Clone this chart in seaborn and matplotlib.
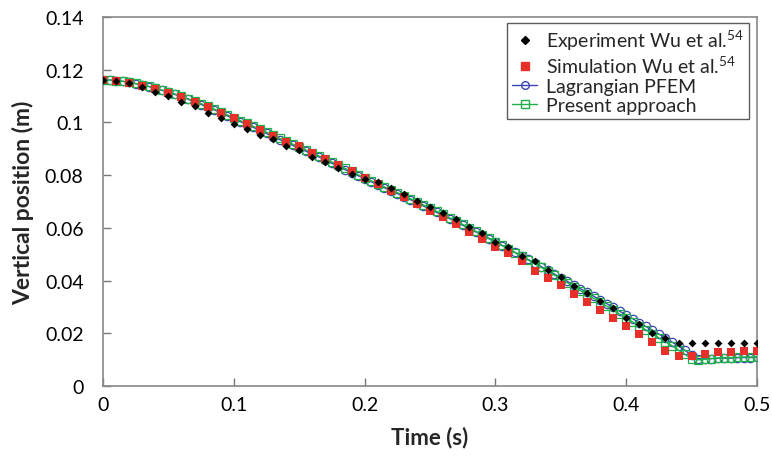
import numpy as np
import pandas as pd
import matplotlib
matplotlib.use("Agg")
import matplotlib.pyplot as plt
import seaborn as sns
from matplotlib.lines import Line2D

# ---- data ----
t_exp = [round(0.01 * i, 2) for i in range(51)]
y_exp = [0.1160, 0.1157, 0.1150, 0.1135, 0.1114, 0.1101, 0.1079, 0.1063, 0.1036, 0.1016,
         0.0993, 0.0974, 0.0952, 0.0937, 0.0912, 0.0894, 0.0868, 0.0849, 0.0826, 0.0803,
         0.0786, 0.0775, 0.0750, 0.0728, 0.0702, 0.0680, 0.0658, 0.0634, 0.0602, 0.0582,
         0.0547, 0.0526, 0.0494, 0.0473, 0.0441, 0.0414, 0.0381, 0.0354, 0.0321, 0.0295,
         0.0258, 0.0235, 0.0202, 0.0181, 0.0163, 0.0163, 0.0163, 0.0163, 0.0163, 0.0163,
         0.0163]

t_sim = [round(0.01 * i, 2) for i in range(51)]
y_sim = [0.1162, 0.1156, 0.1150, 0.1140, 0.1127, 0.1113, 0.1098, 0.1079, 0.1060, 0.1036,
         0.1016, 0.0994, 0.0971, 0.0950, 0.0927, 0.0909, 0.0884, 0.0861, 0.0838, 0.0816,
         0.0790, 0.0766, 0.0741, 0.0716, 0.0690, 0.0663, 0.0640, 0.0615, 0.0583, 0.0558,
         0.0528, 0.0503, 0.0473, 0.0436, 0.0410, 0.0384, 0.0350, 0.0317, 0.0290, 0.0258,
         0.0229, 0.0199, 0.0167, 0.0133, 0.0112, 0.0112, 0.0121, 0.0130, 0.0130, 0.0134,
         0.0134]

t_num = [round(0.005 * i, 3) for i in range(101)]
y_pfem = [0.1162, 0.1161, 0.1159, 0.1156, 0.1152, 0.1147, 0.1142, 0.1136, 0.1129, 0.1122,
          0.1114, 0.1106, 0.1097, 0.1088, 0.1078, 0.1068, 0.1058, 0.1048, 0.1037, 0.1025,
          0.1013, 0.1003, 0.0992, 0.0981, 0.0969, 0.0958, 0.0946, 0.0935, 0.0924, 0.0913,
          0.0902, 0.0891, 0.0880, 0.0869, 0.0857, 0.0845, 0.0833, 0.0821, 0.0809, 0.0798,
          0.0786, 0.0775, 0.0763, 0.0752, 0.0741, 0.0730, 0.0718, 0.0707, 0.0695, 0.0683,
          0.0671, 0.0659, 0.0647, 0.0635, 0.0622, 0.0610, 0.0597, 0.0585, 0.0572, 0.0559,
          0.0546, 0.0533, 0.0520, 0.0507, 0.0493, 0.0480, 0.0466, 0.0453, 0.0439, 0.0425,
          0.0411, 0.0397, 0.0383, 0.0369, 0.0355, 0.0341, 0.0327, 0.0313, 0.0298, 0.0284,
          0.0269, 0.0255, 0.0240, 0.0226, 0.0211, 0.0197, 0.0183, 0.0167, 0.0151, 0.0135,
          0.0117, 0.0104, 0.0103, 0.0104, 0.0105, 0.0106, 0.0106, 0.0107, 0.0108, 0.0108,
          0.0109]
y_present = [0.1162, 0.1161, 0.1159, 0.1156, 0.1153, 0.1148, 0.1143, 0.1137, 0.1130, 0.1123,
             0.1116, 0.1108, 0.1099, 0.1090, 0.1081, 0.1071, 0.1061, 0.1051, 0.1040, 0.1029,
             0.1018, 0.1007, 0.0996, 0.0985, 0.0974, 0.0963, 0.0951, 0.0940, 0.0929, 0.0918,
             0.0907, 0.0896, 0.0885, 0.0873, 0.0862, 0.0850, 0.0838, 0.0826, 0.0814, 0.0802,
             0.0790, 0.0779, 0.0767, 0.0756, 0.0745, 0.0734, 0.0722, 0.0711, 0.0699, 0.0687,
             0.0675, 0.0663, 0.0651, 0.0638, 0.0626, 0.0613, 0.0600, 0.0587, 0.0574, 0.0561,
             0.0547, 0.0534, 0.0520, 0.0506, 0.0492, 0.0478, 0.0464, 0.0450, 0.0435, 0.0421,
             0.0406, 0.0392, 0.0377, 0.0362, 0.0348, 0.0333, 0.0318, 0.0303, 0.0288, 0.0273,
             0.0258, 0.0243, 0.0228, 0.0213, 0.0198, 0.0183, 0.0168, 0.0153, 0.0136, 0.0120,
             0.0103, 0.0099, 0.0102, 0.0104, 0.0106, 0.0107, 0.0108, 0.0109, 0.0110, 0.0110,
             0.0111]

x_ticks = [0, 0.1, 0.2, 0.3, 0.4, 0.5]
x_tick_labels = ["0", "0.1", "0.2", "0.3", "0.4", "0.5"]
y_ticks = [0, 0.02, 0.04, 0.06, 0.08, 0.1, 0.12, 0.14]
y_tick_labels = ["0", "0.02", "0.04", "0.06", "0.08", "0.1", "0.12", "0.14"]

lab_exp = r"Experiment Wu et al.$^{54}$"
lab_sim = r"Simulation Wu et al.$^{54}$"
lab_pfem = "Lagrangian PFEM"
lab_pres = "Present approach"

# ---- styling ----
sns.set_theme(style="white")
FONT = "Lato"
plt.rcParams["font.family"] = [FONT, "DejaVu Sans"]
plt.rcParams["mathtext.fontset"] = "custom"
plt.rcParams["mathtext.rm"] = FONT
plt.rcParams["mathtext.it"] = FONT
plt.rcParams["mathtext.bf"] = FONT + ":bold"

fig = plt.figure(figsize=(7.72, 4.60), dpi=100)
ax = fig.add_axes([103 / 772, 1 - 387 / 460, (757 - 103) / 772, (387 - 18) / 460])

c_blue = "#3b44b0"
c_green = "#1fb04a"
c_red = "#e8302a"

sns.lineplot(x=t_num, y=y_pfem, ax=ax, color=c_blue, lw=1.0, marker="o", markersize=6,
             markerfacecolor="none", markeredgecolor=c_blue, markeredgewidth=0.9,
             label=lab_pfem, zorder=2, legend=False)
sns.lineplot(x=t_num, y=y_present, ax=ax, color=c_green, lw=1.0, marker="s", markersize=6,
             markerfacecolor="none", markeredgecolor=c_green, markeredgewidth=0.9,
             label=lab_pres, zorder=3, legend=False)
sns.scatterplot(x=t_sim, y=y_sim, ax=ax, color=c_red, marker="s", s=36, linewidth=0,
                label=lab_sim, zorder=4, legend=False)
sns.scatterplot(x=t_exp, y=y_exp, ax=ax, color="black", marker="D", s=16, linewidth=0,
                label=lab_exp, zorder=5, legend=False)

ax.set_xlim(0, 0.5)
ax.set_ylim(0, 0.14)
ax.set_xticks(x_ticks)
ax.set_xticklabels(x_tick_labels)
ax.set_yticks(y_ticks)
ax.set_yticklabels(y_tick_labels)
ax.tick_params(axis="both", direction="in", length=6, width=1, color="#777777",
               labelsize=14, colors="black", bottom=True, left=True, top=False, right=False)
ax.tick_params(axis="x", pad=7)
ax.tick_params(axis="y", pad=14)
for s in ax.spines.values():
    s.set_color("#888888")
    s.set_linewidth(1.2)

ax.set_xlabel("Time (s)", fontsize=16, fontweight="bold", labelpad=9)
ax.set_ylabel("Vertical position (m)", fontsize=16.5, fontweight="bold", labelpad=8)

handles = [
    Line2D([], [], ls="none", marker="D", color="black", markersize=4),
    Line2D([], [], ls="none", marker="s", color=c_red, markersize=5.5),
    Line2D([], [], color=c_blue, lw=1.0, marker="o", markersize=5.5, markerfacecolor="none"),
    Line2D([], [], color=c_green, lw=1.0, marker="s", markersize=5.5, markerfacecolor="none"),
]
leg = ax.legend(handles, [lab_exp, lab_sim, lab_pfem, lab_pres], loc="upper right",
                bbox_to_anchor=(749 / 772, 1 - 24 / 460), bbox_transform=fig.transFigure,
                fontsize=14, frameon=True, fancybox=False, handlelength=1.3,
                handletextpad=0.45, borderpad=0.25, labelspacing=0.12, borderaxespad=0)
leg.get_frame().set_edgecolor("#333333")
leg.get_frame().set_linewidth(1.0)

fig.savefig("out.png", dpi=100)
